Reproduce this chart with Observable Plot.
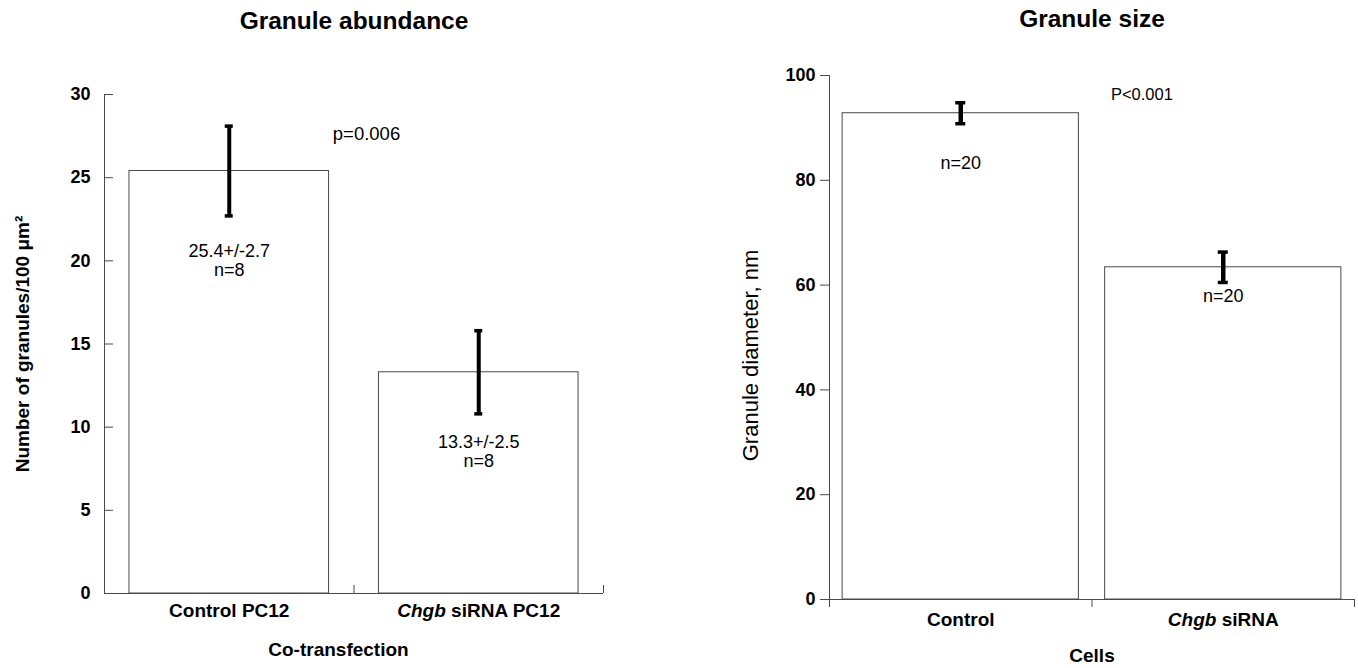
<!DOCTYPE html>
<html>
<head>
<meta charset="utf-8">
<script src="https://cdn.jsdelivr.net/npm/d3@7"></script>
<script src="https://cdn.jsdelivr.net/npm/@observablehq/plot@0.6"></script>
<style>
  html, body { margin: 0; padding: 0; background: #fff; }
  #wrap { display: flex; width: 1358px; height: 668px; overflow: hidden; }
  #wrap svg { display: block; flex: none; }
</style>
</head>
<body>
<div id="wrap"></div>
<script>
// ---- Data: Granule abundance (left) ----
const abundanceCategories = ["Control PC12", "Chgb siRNA PC12"];
const abundanceMeans = [25.4, 13.3];
const abundanceErrors = [2.7, 2.5];
const abundanceN = [8, 8];
const abundanceLabelY = [20.6, 9.1];
const abundanceTicks = [0, 5, 10, 15, 20, 25, 30];
const abundanceP = "p=0.006";

// ---- Data: Granule size (right) ----
const sizeCategories = ["Control", "Chgb siRNA"];
const sizeMeans = [92.8, 63.4];
const sizeErrors = [2.0, 2.9];
const sizeN = [20, 20];
const sizeLabelY = [83.2, 57.8];
const sizeTicks = [0, 20, 40, 60, 80, 100];
const sizeP = "P<0.001";

const FONT = '"Liberation Sans", Arial, Helvetica, sans-serif';
const GRAY = "#4a4a4a";

const A = abundanceCategories.map((c, i) => ({i, category: c, mean: abundanceMeans[i], err: abundanceErrors[i], n: abundanceN[i], labelY: abundanceLabelY[i]}));
const S = sizeCategories.map((c, i) => ({i, category: c, mean: sizeMeans[i], err: sizeErrors[i], n: sizeN[i], labelY: sizeLabelY[i]}));

const left = Plot.plot({
  width: 679, height: 668,
  marginLeft: 104, marginRight: 76, marginTop: 94, marginBottom: 75,
  x: {domain: [0, 2], axis: null},
  y: {domain: [0, 30], axis: null},
  style: {fontFamily: FONT, fontSize: "17px", color: "#000", background: "#fff", overflow: "visible"},
  marks: [
    Plot.rectY(A, {x1: d => d.i + 0.1, x2: d => d.i + 0.9, y1: 0, y2: "mean", fill: "white", stroke: GRAY, strokeWidth: 1}),
    Plot.ruleX([0], {y1: 0, y2: 30, stroke: GRAY}),
    Plot.ruleY([0], {x1: 0, x2: 2, stroke: GRAY}),
    Plot.ruleX([1, 2], {x: d => d, y1: 0, y2: 0, insetTop: -8, stroke: GRAY}),
    Plot.axisY({ticks: abundanceTicks, tickSize: -9, tickPadding: 23, label: null, stroke: GRAY, fill: "#000", fontSize: 18, fontWeight: "bold"}),
    // error bars
    Plot.ruleX(A, {x: d => d.i + 0.5, y1: d => d.mean - d.err, y2: d => d.mean + d.err, stroke: "#000", strokeWidth: 4}),
    Plot.ruleY(A, {y: d => d.mean + d.err, x1: d => d.i + 0.5, x2: d => d.i + 0.5, insetLeft: -4, insetRight: -4, stroke: "#000", strokeWidth: 3.5}),
    Plot.ruleY(A, {y: d => d.mean - d.err, x1: d => d.i + 0.5, x2: d => d.i + 0.5, insetLeft: -4, insetRight: -4, stroke: "#000", strokeWidth: 3.5}),
    // value labels
    Plot.text(A, {x: d => d.i + 0.5, y: "labelY", text: d => `${d.mean}+/-${d.err}`, fontSize: 18, fill: "#000"}),
    Plot.text(A, {x: d => d.i + 0.5, y: "labelY", dy: 19, text: d => `n=${d.n}`, fontSize: 18, fill: "#000"}),
    Plot.text([abundanceP], {x: 1.05, y: 27.6, text: d => d, fontSize: 18.5, fill: "#000"}),
    // category labels and titles
    Plot.text(A, {x: d => d.i + 0.5, frameAnchor: "bottom", lineAnchor: "middle", dy: 17.5, text: "category", fontSize: 19, fontWeight: "bold", fill: "#000"}),
    Plot.text(["Co-transfection"], {frameAnchor: "bottom", lineAnchor: "middle", dx: -15.5, dy: 56, text: d => d, fontSize: 19, fontWeight: "bold", fill: "#000"}),
    Plot.text(["Number of granules/100 \u03bcm\u00b2"], {frameAnchor: "left", textAnchor: "middle", lineAnchor: "middle", dx: -82, rotate: -90, text: d => d, fontSize: 19, fontWeight: "bold", fill: "#000"}),
    Plot.text(["Granule abundance"], {frameAnchor: "top", lineAnchor: "middle", dy: -73, text: d => d, fontSize: 24.5, fontWeight: "bold", fill: "#000"})
  ]
});

const right = Plot.plot({
  width: 679, height: 668,
  marginLeft: 150, marginRight: 4, marginTop: 75, marginBottom: 69,
  x: {domain: [0, 2], axis: null},
  y: {domain: [0, 100], axis: null},
  style: {fontFamily: FONT, fontSize: "17px", color: "#000", background: "#fff", overflow: "visible"},
  marks: [
    Plot.rectY(S, {x1: d => d.i + 0.05, x2: d => d.i + 0.95, y1: 0, y2: "mean", fill: "white", stroke: GRAY, strokeWidth: 1}),
    Plot.ruleX([0], {y1: 0, y2: 100, stroke: GRAY}),
    Plot.ruleY([0], {x1: 0, x2: 2, stroke: GRAY}),
    Plot.ruleX([0, 1, 2], {x: d => d, y1: 0, y2: 0, insetBottom: -8, stroke: GRAY}),
    Plot.axisY({ticks: sizeTicks, tickSize: 9, tickPadding: 5, label: null, stroke: GRAY, fill: "#000", fontSize: 18, fontWeight: "bold"}),
    // error bars
    Plot.ruleX(S, {x: d => d.i + 0.5, y1: d => d.mean - d.err, y2: d => d.mean + d.err, stroke: "#000", strokeWidth: 4.5}),
    Plot.ruleY(S, {y: d => d.mean + d.err, x1: d => d.i + 0.5, x2: d => d.i + 0.5, insetLeft: -5, insetRight: -5, stroke: "#000", strokeWidth: 3.5}),
    Plot.ruleY(S, {y: d => d.mean - d.err, x1: d => d.i + 0.5, x2: d => d.i + 0.5, insetLeft: -5, insetRight: -5, stroke: "#000", strokeWidth: 3.5}),
    // n labels
    Plot.text(S, {x: d => d.i + 0.5, y: "labelY", text: d => `n=${d.n}`, fontSize: 18, fill: "#000"}),
    Plot.text([sizeP], {x: 1.19, y: 96.4, text: d => d, fontSize: 16.5, fill: "#000"}),
    // category labels and titles
    Plot.text(S, {x: d => d.i + 0.5, frameAnchor: "bottom", lineAnchor: "middle", dy: 20, text: "category", fontSize: 19, fontWeight: "bold", fill: "#000"}),
    Plot.text(["Cells"], {frameAnchor: "bottom", lineAnchor: "middle", dy: 56, text: d => d, fontSize: 19, fontWeight: "bold", fill: "#000"}),
    Plot.text(["Granule diameter, nm"], {frameAnchor: "left", textAnchor: "middle", lineAnchor: "middle", dx: -79, dy: 18, rotate: -90, text: d => d, fontSize: 22, fill: "#000"}),
    Plot.text(["Granule size"], {frameAnchor: "top", lineAnchor: "middle", dy: -56, text: d => d, fontSize: 24.5, fontWeight: "bold", fill: "#000"})
  ]
});

const wrap = document.getElementById("wrap");
wrap.appendChild(left);
wrap.appendChild(right);

// italicise the gene name "Chgb" in category labels
d3.selectAll("#wrap svg text").each(function () {
  const t = this.textContent;
  if (t.startsWith("Chgb ") && this.children.length === 0) {
    const el = d3.select(this);
    el.text(null);
    el.append("tspan").attr("font-style", "italic").text("Chgb");
    el.append("tspan").text(t.slice(4));
  }
});
</script>
</body>
</html>
